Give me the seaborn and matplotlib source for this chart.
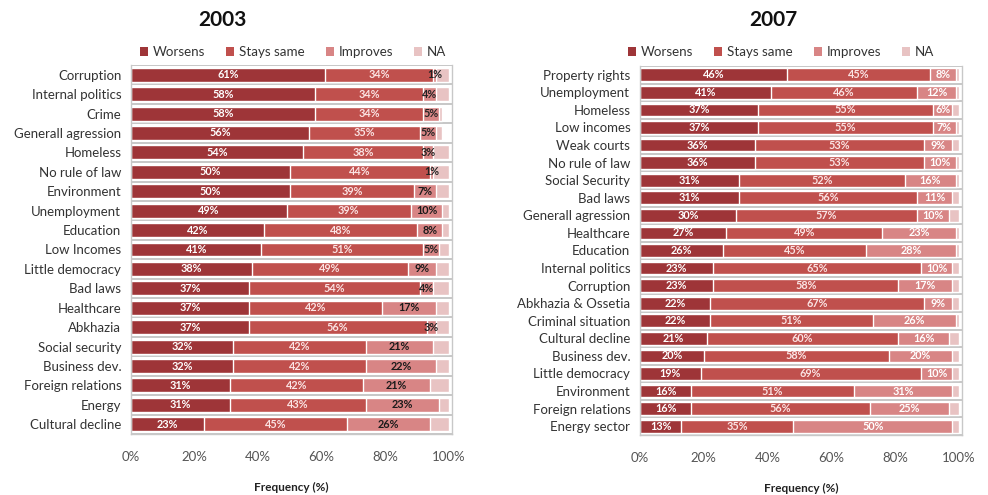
import matplotlib
matplotlib.use("Agg")
import matplotlib.pyplot as plt
import seaborn as sns
import pandas as pd
from matplotlib.patches import Patch

sns.set_theme(style="white")
plt.rcParams["font.family"] = ["Lato", "DejaVu Sans"]

# ---- 2003 survey ----
cats_2003 = ["Corruption", "Internal politics", "Crime", "Generall agression", "Homeless",
             "No rule of law", "Environment", "Unemployment", "Education", "Low Incomes",
             "Little democracy", "Bad laws", "Healthcare", "Abkhazia", "Social security",
             "Business dev.", "Foreign relations", "Energy", "Cultural decline"]
worsens_2003 = [61, 58, 58, 56, 54, 50, 50, 49, 42, 41, 38, 37, 37, 37, 32, 32, 31, 31, 23]
same_2003 = [34, 34, 34, 35, 38, 44, 39, 39, 48, 51, 49, 54, 42, 56, 42, 42, 42, 43, 45]
improves_2003 = [1, 4, 5, 5, 3, 1, 7, 10, 8, 5, 9, 4, 17, 3, 21, 22, 21, 23, 26]
na_2003 = [4, 4, 1, 2, 5, 5, 4, 2, 2, 3, 4, 5, 4, 4, 5, 4, 6, 3, 6]

# ---- 2007 survey ----
cats_2007 = ["Property rights", "Unemployment", "Homeless", "Low incomes", "Weak courts",
             "No rule of law", "Social Security", "Bad laws", "Generall agression", "Healthcare",
             "Education", "Internal politics", "Corruption", "Abkhazia & Ossetia",
             "Criminal situation", "Cultural decline", "Business dev.", "Little democracy",
             "Environment", "Foreign relations", "Energy sector"]
worsens_2007 = [46, 41, 37, 37, 36, 36, 31, 31, 30, 27, 26, 23, 23, 22, 22, 21, 20, 19, 16, 16, 13]
same_2007 = [45, 46, 55, 55, 53, 53, 52, 56, 57, 49, 45, 65, 58, 67, 51, 60, 58, 69, 51, 56, 35]
improves_2007 = [8, 12, 6, 7, 9, 10, 16, 11, 10, 23, 28, 10, 17, 9, 26, 16, 20, 10, 31, 25, 50]
na_2007 = [1, 1, 2, 1, 2, 1, 1, 2, 3, 1, 1, 2, 2, 2, 1, 3, 2, 2, 2, 3, 2]

series_names = ["Worsens", "Stays same", "Improves", "NA"]
colors = ["#9E3538", "#C0504D", "#D88585", "#E8C3C3"]
xticks = [0, 20, 40, 60, 80, 100]
xtick_labels = ["0%", "20%", "40%", "60%", "80%", "100%"]

fig = plt.figure(figsize=(9.88, 4.95), dpi=100)


def draw_panel(rect, cats, parts, title, title_x, legend_x, improve_label_color):
    ax = fig.add_axes(rect)
    df = pd.DataFrame({"cat": cats})
    cum = [0] * len(cats)
    lefts = []
    rights = []
    for p in parts:
        lefts.append(list(cum))
        cum = [c + v for c, v in zip(cum, p)]
        rights.append(list(cum))
    # draw cumulative bars from the longest to the shortest so they stack visually
    for k in range(len(parts) - 1, -1, -1):
        df["x"] = rights[k]
        sns.barplot(data=df, x="x", y="cat", order=cats, orient="h", color=colors[k],
                    saturation=1, width=0.72, edgecolor="white", linewidth=1.0, ax=ax)
    # percentage labels on the first three segments
    label_colors = ["white", "#FBE4E4", improve_label_color]
    for k in range(3):
        for i, v in enumerate(parts[k]):
            xc = (lefts[k][i] + rights[k][i]) / 2
            col = label_colors[k]
            if k == 2 and v <= 5:
                col = "#222222"
            ax.text(xc, i, f"{v}%", ha="center", va="center", fontsize=7.8,
                    fontweight="bold", color=col)
    # row separators
    for i in range(len(cats) + 1):
        ax.axhline(i - 0.5, color="#B8B8B8", lw=1.1, zorder=0)
    ax.set_xlim(0, 101)
    ax.set_ylim(len(cats) - 0.5, -0.5)
    ax.set_xticks(xticks)
    ax.set_xticklabels(xtick_labels, fontsize=9.5, color="#555555")
    ax.tick_params(axis="x", length=3, color="#888888", pad=9)
    ax.tick_params(axis="y", length=0, labelsize=9.5, labelcolor="#333333", pad=7)
    ax.set_ylabel("")
    ax.set_xlabel("Frequency (%)", fontsize=8.5, fontweight="bold", color="#222222",
                  labelpad=14)
    ax.spines["top"].set_visible(False)
    for s in ["left", "right", "bottom"]:
        ax.spines[s].set_color("#C8C8C8")
        ax.spines[s].set_linewidth(1.0)
    fig.text(title_x, 0.96, title, ha="center", va="center", fontsize=15,
             fontweight="bold", color="#111111")
    handles = [Patch(facecolor=c, edgecolor="none") for c in colors]
    fig.legend(handles, series_names, loc="center", bbox_to_anchor=(legend_x, 0.895),
               ncol=4, frameon=False, fontsize=9.6, handlelength=0.6, handleheight=0.6,
               handletextpad=0.35, columnspacing=1.6, labelcolor="#333333")
    return ax


draw_panel([131 / 988, 1 - 434 / 495, 321 / 988, 369 / 495], cats_2003,
           [worsens_2003, same_2003, improves_2003, na_2003], "2003", 222 / 988,
           293 / 988, "#1A1A1A")
draw_panel([640 / 988, 1 - 435 / 495, 322 / 988, 369 / 495], cats_2007,
           [worsens_2007, same_2007, improves_2007, na_2007], "2007", 773 / 988,
           781 / 988, "white")

fig.savefig("out.png", dpi=100)
